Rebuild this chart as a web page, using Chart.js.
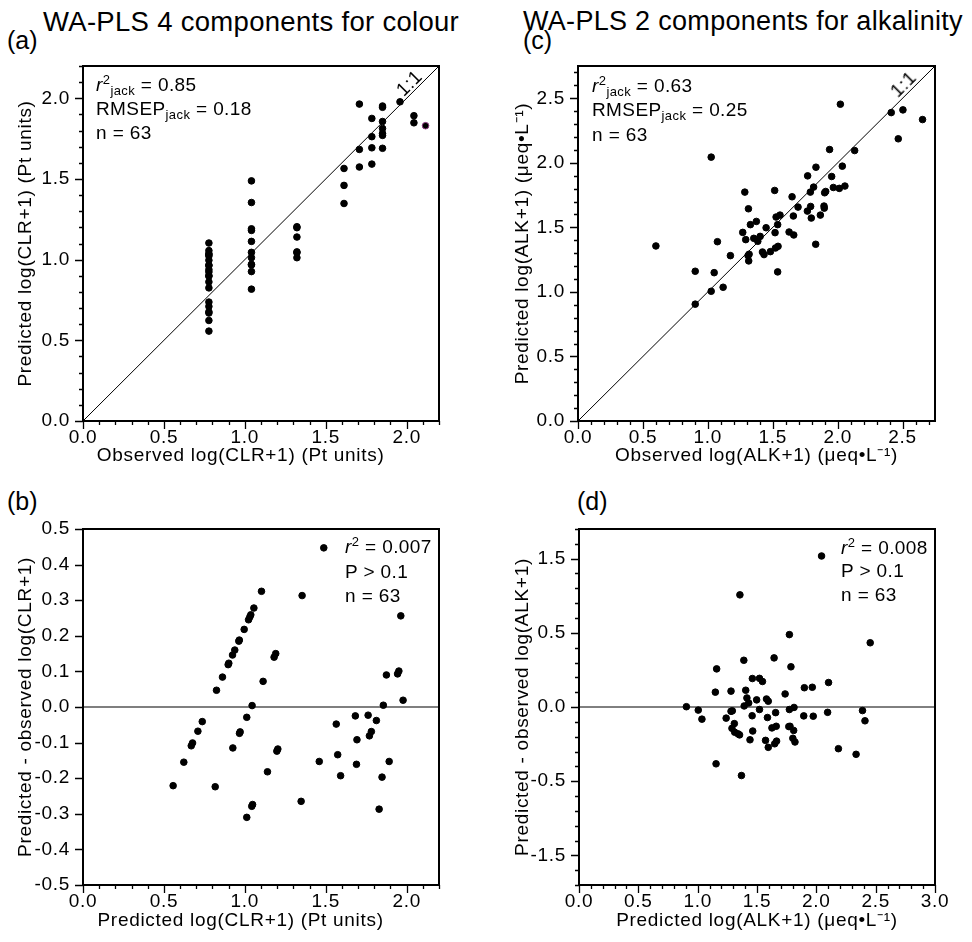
<!DOCTYPE html>
<html>
<head>
<meta charset="utf-8">
<script src="https://cdn.jsdelivr.net/npm/chart.js@4.4.1/dist/chart.umd.min.js"></script>
<style>
  body { margin: 0; background: #fff; }
  #page { position: relative; width: 972px; height: 942px; overflow: hidden; font-family: "Liberation Sans", Arial, sans-serif; color: #000; }
  canvas { position: absolute; }
  .t { position: absolute; white-space: nowrap; line-height: 1; font-size: 19px; letter-spacing: 0.4px; }
  .t sup, .t sub { font-size: 13px; line-height: 0; position: relative; vertical-align: baseline; }
  .t sup { top: -0.55em; }
  .t sub { top: 0.3em; }
  .head { font-size: 27.5px; letter-spacing: 0.3px; }
  .tag { font-size: 25px; letter-spacing: 0; }
  .one { transform: translate(-50%, -50%) rotate(-45deg); }
</style>
</head>
<body>
<div id="page">
  <div class="t head" style="left:43px;top:8px">WA-PLS 4 components for colour</div>
  <div class="t head" style="left:523px;top:8px;font-size:27px">WA-PLS 2 components for alkalinity</div>
  <div class="t tag" style="left:7px;top:28px">(a)</div>
  <div class="t tag" style="left:523px;top:28px">(c)</div>
  <div class="t tag" style="left:7px;top:489px">(b)</div>
  <div class="t tag" style="left:577px;top:489px">(d)</div>

  <canvas id="chartA" width="470" height="420" style="left:0;top:56px"></canvas>
  <canvas id="chartB" width="470" height="452" style="left:0;top:490px"></canvas>
  <canvas id="chartC" width="486" height="420" style="left:486px;top:56px"></canvas>
  <canvas id="chartD" width="486" height="452" style="left:486px;top:490px"></canvas>

  <div class="t" style="left:96px;top:75px"><i>r</i><sup>2</sup><sub>jack</sub> = 0.85</div>
  <div class="t" style="left:96px;top:99px">RMSEP<sub>jack</sub> = 0.18</div>
  <div class="t" style="left:96px;top:123px">n = 63</div>
  <div class="t one" style="left:409px;top:83px">1:1</div>

  <div class="t" style="left:592px;top:76px"><i>r</i><sup>2</sup><sub>jack</sub> = 0.63</div>
  <div class="t" style="left:592px;top:100px">RMSEP<sub>jack</sub> = 0.25</div>
  <div class="t" style="left:592px;top:125px">n = 63</div>
  <div class="t one" style="left:903px;top:84px">1:1</div>

  <div class="t" style="left:345px;top:537px"><i>r</i><sup>2</sup> = 0.007</div>
  <div class="t" style="left:345px;top:562px">P &gt; 0.1</div>
  <div class="t" style="left:345px;top:586px">n = 63</div>

  <div class="t" style="left:841px;top:538px"><i>r</i><sup>2</sup> = 0.008</div>
  <div class="t" style="left:841px;top:561px">P &gt; 0.1</div>
  <div class="t" style="left:841px;top:585px">n = 63</div>
</div>
<script>
// colour: observed and WA-PLS predicted log(CLR+1), one pair per lake
const colourObserved = [
  0.778, 0.778, 0.778, 0.778, 0.778, 0.778, 0.778, 0.778, 0.778, 0.778,
  0.778, 0.778, 0.778, 0.778, 0.778, 0.778, 0.778, 0.778, 0.778, 0.778,
  1.041, 1.041, 1.041, 1.041, 1.041, 1.041, 1.041, 1.041, 1.041, 1.041, 1.041,
  1.322, 1.322, 1.322, 1.322, 1.322, 1.322,
  1.613, 1.613, 1.613,
  1.708, 1.708, 1.708,
  1.785, 1.785, 1.785, 1.785,
  1.851, 1.851, 1.851, 1.851, 1.851, 1.851, 1.851,
  1.959,
  2.045, 2.045,
  2.117
];
const colourPredicted = [
  0.557, 0.623, 0.669, 0.677, 0.710, 0.737, 0.825, 0.862, 0.897, 0.901,
  0.924, 0.938, 0.963, 0.966, 0.996, 1.023, 1.031, 1.037, 1.056, 1.103,
  0.817, 0.926, 0.967, 0.971, 1.012, 1.045, 1.113, 1.181, 1.191, 1.354, 1.488,
  1.012, 1.043, 1.048, 1.140, 1.198, 1.204,
  1.565, 1.460, 1.348,
  1.964, 1.683, 1.574,
  1.875, 1.762, 1.693, 1.592,
  1.952, 1.944, 1.856, 1.813, 1.782, 1.770, 1.690,
  1.978,
  1.892, 1.848,
  1.830
];

// alkalinity: observed and WA-PLS predicted log(ALK+1)
const alkObserved = [
  0.600, 0.903, 0.903, 1.026, 1.026, 1.049, 1.074, 1.118, 1.174, 1.269,
  1.285, 1.292, 1.313, 1.310, 1.315, 1.328, 1.354, 1.374, 1.385, 1.403,
  1.421, 1.433, 1.449, 1.482, 1.515, 1.518, 1.521, 1.526, 1.538, 1.541,
  1.538, 1.556, 1.626, 1.649, 1.659, 1.662, 1.695, 1.767, 1.769, 1.790,
  1.792, 1.797, 1.815, 1.831, 1.833, 1.867, 1.895, 1.897, 1.900, 1.908,
  1.938, 1.954, 1.967, 2.013, 2.021, 2.036, 2.056, 2.131, 2.413, 2.467,
  2.503, 2.654, 1.318
];
const alkPredicted = [
  1.356, 1.160, 0.905, 2.044, 1.005, 1.149, 1.389, 1.036, 1.281, 1.461,
  1.773, 1.405, 1.644, 1.281, 1.240, 1.521, 1.415, 1.546, 1.392, 1.430,
  1.309, 1.289, 1.497, 1.312, 1.786, 1.459, 1.340, 1.580, 1.521, 1.353,
  1.155, 1.595, 1.464, 1.737, 1.588, 1.441, 1.657, 1.626, 1.899, 1.773,
  1.662, 1.572, 1.812, 1.369, 1.966, 1.595, 1.665, 1.649, 1.768, 1.778,
  2.103, 1.894, 1.809, 1.802, 2.454, 1.974, 1.820, 2.095, 2.389, 2.186,
  2.410, 2.335, 1.292
];

// tick labels
const colourTicks = [0, 0.5, 1, 1.5, 2];
const colourResidTicks = [-0.5, -0.4, -0.3, -0.2, -0.1, 0, 0.1, 0.2, 0.3, 0.4, 0.5];
const alkTicks = [0, 0.5, 1, 1.5, 2, 2.5];
const alkResidXTicks = [0, 0.5, 1, 1.5, 2, 2.5, 3];
const alkResidYTicks = [-1, -0.5, 0, 0.5, 1];
const alkResidYLabels = ["-1.5", "-0.5", "0.0", "0.5", "1.5"];

const FONT = '"Liberation Sans", Arial, sans-serif';

const colourPoints = colourObserved.map((o, i) => ({ x: o, y: colourPredicted[i] }));
const colourResid = colourObserved.map((o, i) => ({ x: colourPredicted[i], y: colourPredicted[i] - o }));
const alkPoints = alkObserved.map((o, i) => ({ x: o, y: alkPredicted[i] }));
const alkResid = alkObserved.map((o, i) => ({ x: alkPredicted[i], y: alkPredicted[i] - o }));

// box frame plus major/minor tick marks every 0.1
const frameTicks = {
  id: "frameTicks",
  beforeDraw(chart) {
    chart.ctx.letterSpacing = "0.7px";
  },
  afterDraw(chart, args, opts) {
    const { ctx, chartArea: a, scales } = chart;
    ctx.save();
    ctx.strokeStyle = "#000";
    ctx.lineWidth = 1.3;
    ctx.beginPath();
    [scales.x, scales.y].forEach((s) => {
      const allMajor = s.axis === "x" ? opts.xAllMajor : opts.yAllMajor;
      const lo = Math.ceil(s.min * 10 - 1e-6);
      const hi = Math.floor(s.max * 10 + 1e-6);
      for (let i = lo; i <= hi; i++) {
        const len = allMajor || Math.abs(i) % 5 === 0 ? 8 : 4;
        const p = Math.round(s.getPixelForValue(i / 10)) + 0.5;
        if (s.axis === "x") {
          ctx.moveTo(p, a.bottom);
          ctx.lineTo(p, a.bottom + len);
        } else {
          ctx.moveTo(a.left, p);
          ctx.lineTo(a.left - len, p);
        }
      }
    });
    ctx.stroke();
    ctx.lineWidth = 2;
    ctx.strokeRect(a.left, a.top, a.right - a.left, a.bottom - a.top);
    ctx.restore();
  },
};

function axis(o) {
  return {
    type: "linear",
    min: o.min,
    max: o.max,
    grid: { display: false, drawTicks: false },
    border: { display: false },
    afterBuildTicks: (s) => {
      s.ticks = o.ticks.map((v) => ({ value: v }));
    },
    afterFit: (s) => {
      if (o.width) s.width = o.width;
      if (o.height) s.height = o.height;
      s.paddingTop = s.paddingBottom = s.paddingLeft = s.paddingRight = 0;
    },
    ticks: {
      autoSkip: false,
      maxRotation: 0,
      padding: o.tickPad,
      color: "#000",
      font: { size: 19, family: FONT },
      callback: (v, i) => (o.labels ? o.labels[i] : Number(v).toFixed(1)),
    },
    title: {
      display: true,
      text: o.title,
      color: "#000",
      font: { size: 19, family: FONT },
      padding: o.titlePad,
    },
  };
}

function makePanel(id, cfg) {
  return new Chart(document.getElementById(id), {
    type: "scatter",
    data: {
      datasets: [
        {
          data: cfg.points,
          pointRadius: 3.3,
          pointBackgroundColor: "#000",
          pointBorderColor: cfg.pointBorders || "#000",
          pointBorderWidth: 1,
          order: 1,
        },
        {
          data: cfg.refLine,
          showLine: true,
          pointRadius: 0,
          borderColor: cfg.refColor,
          borderWidth: cfg.refWidth,
          order: 2,
        },
      ],
    },
    options: {
      responsive: false,
      animation: false,
      events: [],
      layout: { padding: cfg.pad },
      plugins: {
        legend: { display: false },
        tooltip: { enabled: false },
        frameTicks: { xAllMajor: false, yAllMajor: !!cfg.yAllMajor },
      },
      scales: { x: axis(cfg.x), y: axis(cfg.y) },
    },
    plugins: [frameTicks],
  });
}

// the colour panels centre their x titles a little left of the plot box
makePanel("chartA", {
  points: colourPoints,
  pointBorders: colourObserved.map((o) => (o > 2.1 ? "#8e3a80" : "#000")),
  refLine: [{ x: 0, y: 0 }, { x: 2.2, y: 2.2 }],
  refColor: "#000",
  refWidth: 1,
  pad: { top: 10, right: 31, left: 0, bottom: 0 },
  x: { min: 0, max: 2.2, ticks: colourTicks, height: 55, tickPad: 5,
       title: "Observed log(CLR+1) (Pt units)\u2002\u2002\u2002\u2002", titlePad: { top: 0, bottom: 9 } },
  y: { min: 0, max: 2.2, ticks: colourTicks, width: 83, tickPad: 13,
       title: "Predicted log(CLR+1) (Pt units)", titlePad: { top: 14, bottom: 0 } },
});

makePanel("chartB", {
  points: colourResid,
  refLine: [{ x: 0, y: 0 }, { x: 2.2, y: 0 }],
  refColor: "#555",
  refWidth: 1.5,
  yAllMajor: true,
  pad: { top: 39, right: 31, left: 0, bottom: 0 },
  x: { min: 0, max: 2.2, ticks: colourTicks, height: 57, tickPad: 5,
       title: "Predicted log(CLR+1) (Pt units)\u2002\u2002\u2002\u2002", titlePad: { top: 0, bottom: 10 } },
  y: { min: -0.5, max: 0.5, ticks: colourResidTicks, width: 83, tickPad: 13,
       title: "Predicted - observed log(CLR+1)", titlePad: { top: 14, bottom: 0 } },
});

makePanel("chartC", {
  points: alkPoints,
  refLine: [{ x: 0, y: 0 }, { x: 2.75, y: 2.75 }],
  refColor: "#000",
  refWidth: 1,
  pad: { top: 10, right: 37, left: 0, bottom: 0 },
  x: { min: 0, max: 2.75, ticks: alkTicks, height: 55, tickPad: 5,
       title: "Observed log(ALK+1) (\u03bceq\u2022L\u207b\u00b9)", titlePad: { top: 0, bottom: 9 } },
  y: { min: 0, max: 2.75, ticks: alkTicks, width: 92, tickPad: 13,
       title: "Predicted log(ALK+1) (\u03bceq\u2022L\u207b\u00b9)", titlePad: { top: 25, bottom: 0 } },
});

makePanel("chartD", {
  points: alkResid,
  refLine: [{ x: 0, y: 0 }, { x: 3, y: 0 }],
  refColor: "#000",
  refWidth: 1,
  pad: { top: 39, right: 37, left: 0, bottom: 0 },
  x: { min: 0, max: 3, ticks: alkResidXTicks, height: 57, tickPad: 5,
       title: "Predicted log(ALK+1) (\u03bceq\u2022L\u207b\u00b9)", titlePad: { top: 0, bottom: 10 } },
  y: { min: -1.2, max: 1.2, ticks: alkResidYTicks, labels: alkResidYLabels, width: 93, tickPad: 13,
       title: "Predicted - observed log(ALK+1)", titlePad: { top: 25, bottom: 0 } },
});
</script>
</body>
</html>
